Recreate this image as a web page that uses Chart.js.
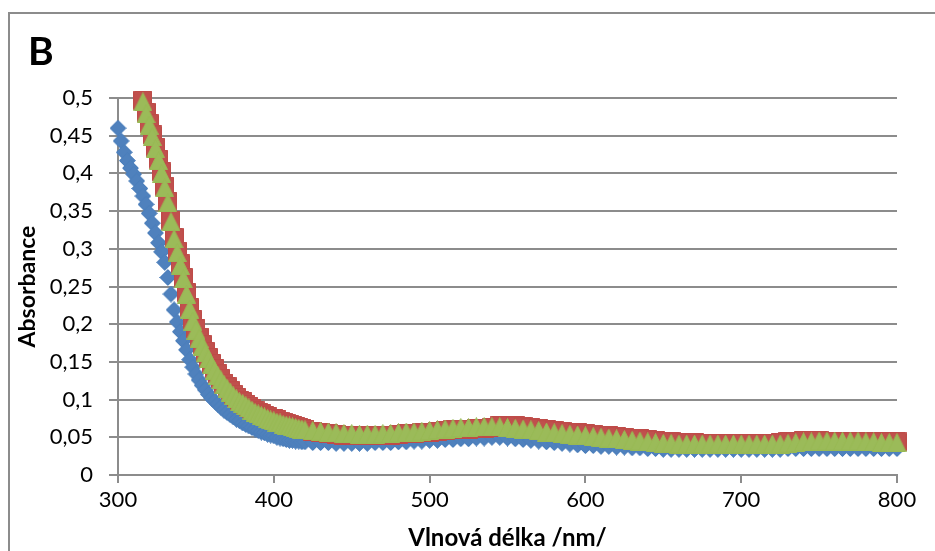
<!DOCTYPE html>
<html lang="cs">
<head>
<meta charset="UTF-8">
<title>Absorbance</title>
<script src="https://cdn.jsdelivr.net/npm/chart.js"></script>
<style>
    body { margin: 0; background: #fff; }
    #obal { width: 935px; height: 551px; }
</style>
</head>
<body>
<div id="obal"><canvas id="spektrum" width="935" height="551"></canvas></div>

<script>
// vlnove delky (nm) - husteji v prudke casti krivky
const vlnovaDelka = [
    300, 302, 304, 306, 308, 310, 312, 314, 316, 318, 320, 322, 324, 326, 328, 330,
    332, 334, 336, 338, 340, 342, 344, 346, 348, 350, 352, 354, 356, 358, 360, 362,
    364, 366, 368, 370, 372, 374, 376, 378, 380, 382, 384, 386, 388, 390, 392, 394,
    396, 398, 400, 402, 404, 406, 408, 410, 412, 414, 416, 418, 420,
    425, 430, 435, 440, 445, 450, 455, 460, 465, 470, 475, 480, 485, 490, 495, 500,
    505, 510, 515, 520, 525, 530, 535, 540, 545, 550, 555, 560, 565, 570, 575, 580,
    585, 590, 595, 600, 605, 610, 615, 620, 625, 630, 635, 640, 645, 650, 655, 660,
    665, 670, 675, 680, 685, 690, 695, 700, 705, 710, 715, 720, 725, 730, 735, 740,
    745, 750, 755, 760, 765, 770, 775, 780, 785, 790, 795, 800
];

// modre kosoctverce
const absModra = [
    0.460, 0.443, 0.428, 0.417, 0.407, 0.399, 0.390, 0.380, 0.370, 0.359, 0.347, 0.334, 0.321, 0.308, 0.296, 0.282,
    0.262, 0.240, 0.219, 0.203, 0.190, 0.178, 0.166, 0.153, 0.143, 0.134, 0.126, 0.119, 0.113, 0.107, 0.102, 0.098,
    0.094, 0.090, 0.086, 0.083, 0.080, 0.077, 0.074, 0.072, 0.069, 0.067, 0.065, 0.063, 0.061, 0.059, 0.057, 0.056,
    0.054, 0.053, 0.052, 0.050, 0.049, 0.048, 0.047, 0.046, 0.046, 0.045, 0.045, 0.044, 0.044,
    0.043, 0.043, 0.043, 0.042, 0.042, 0.042, 0.042, 0.042, 0.043, 0.043, 0.043, 0.044, 0.044, 0.045, 0.045, 0.046,
    0.046, 0.047, 0.047, 0.048, 0.048, 0.049, 0.049, 0.050, 0.050, 0.049, 0.048, 0.047, 0.046, 0.045, 0.044, 0.043,
    0.042, 0.041, 0.040, 0.039, 0.039, 0.038, 0.038, 0.037, 0.037, 0.036, 0.036, 0.035, 0.035, 0.034, 0.034, 0.034,
    0.034, 0.034, 0.034, 0.034, 0.034, 0.034, 0.034, 0.034, 0.034, 0.034, 0.034, 0.034, 0.034, 0.035, 0.035, 0.035,
    0.035, 0.035, 0.035, 0.035, 0.035, 0.035, 0.035, 0.035, 0.035, 0.035, 0.035, 0.035
];

// cervene ctverce (nad 0,5 mimo graf)
const absCervena = [
    null, null, null, null, null, null, null, null, 0.497, 0.481, 0.466, 0.451, 0.435, 0.419, 0.402, 0.383,
    0.363, 0.338, 0.315, 0.297, 0.280, 0.262, 0.242, 0.222, 0.206, 0.194, 0.183, 0.173, 0.164, 0.156, 0.148, 0.141,
    0.134, 0.128, 0.122, 0.117, 0.112, 0.107, 0.103, 0.099, 0.097, 0.094, 0.091, 0.088, 0.085, 0.083, 0.081, 0.079,
    0.077, 0.075, 0.075, 0.073, 0.071, 0.070, 0.068, 0.067, 0.066, 0.064, 0.063, 0.062, 0.061,
    0.058, 0.056, 0.055, 0.054, 0.053, 0.053, 0.052, 0.052, 0.052, 0.053, 0.053, 0.054, 0.055, 0.055, 0.056, 0.057,
    0.058, 0.059, 0.060, 0.061, 0.061, 0.062, 0.062, 0.063, 0.065, 0.065, 0.065, 0.064, 0.063, 0.062, 0.060, 0.059,
    0.058, 0.057, 0.056, 0.055, 0.054, 0.053, 0.052, 0.051, 0.050, 0.049, 0.048, 0.047, 0.046, 0.045, 0.044, 0.043,
    0.043, 0.043, 0.042, 0.042, 0.042, 0.042, 0.042, 0.042, 0.042, 0.042, 0.042, 0.042, 0.043, 0.044, 0.045, 0.046,
    0.046, 0.046, 0.045, 0.044, 0.044, 0.044, 0.044, 0.044, 0.044, 0.044, 0.044, 0.044
];

// zelene trojuhelniky
const absZelena = [
    null, null, null, null, null, null, null, null, 0.495, 0.479, 0.464, 0.449, 0.433, 0.417, 0.400, 0.381,
    0.361, 0.336, 0.313, 0.295, 0.278, 0.260, 0.240, 0.220, 0.204, 0.192, 0.181, 0.171, 0.162, 0.154, 0.146, 0.139,
    0.132, 0.126, 0.120, 0.115, 0.110, 0.105, 0.101, 0.097, 0.095, 0.092, 0.089, 0.086, 0.083, 0.081, 0.079, 0.077,
    0.075, 0.073, 0.072, 0.070, 0.069, 0.067, 0.066, 0.065, 0.064, 0.063, 0.062, 0.061, 0.060,
    0.059, 0.058, 0.057, 0.056, 0.055, 0.055, 0.054, 0.054, 0.054, 0.055, 0.055, 0.056, 0.057, 0.057, 0.058, 0.059,
    0.060, 0.061, 0.062, 0.063, 0.063, 0.064, 0.064, 0.064, 0.064, 0.063, 0.062, 0.061, 0.060, 0.059, 0.057, 0.056,
    0.055, 0.054, 0.053, 0.052, 0.051, 0.050, 0.049, 0.048, 0.047, 0.046, 0.045, 0.044, 0.043, 0.042, 0.042, 0.041,
    0.041, 0.041, 0.041, 0.041, 0.041, 0.041, 0.041, 0.041, 0.041, 0.041, 0.041, 0.041, 0.041, 0.042, 0.043, 0.044,
    0.044, 0.045, 0.045, 0.045, 0.045, 0.045, 0.045, 0.044, 0.044, 0.043, 0.043, 0.043
];

const xTicks = [300, 400, 500, 600, 700, 800];
const yTicks = [0, 0.05, 0.1, 0.15, 0.2, 0.25, 0.3, 0.35, 0.4, 0.45, 0.5];
const yTickLabels = ['0', '0,05', '0,1', '0,15', '0,2', '0,25', '0,3', '0,35', '0,4', '0,45', '0,5'];

const seda = '#8c8c8c';

// znacky jako v Excelu
function znacka(tvar, vypln, okraj, w, h) {
    const c = document.createElement('canvas');
    c.width = w;
    c.height = h;
    const g = c.getContext('2d');
    g.beginPath();
    if (tvar === 'kosoctverec') {
        g.moveTo(w / 2, 0.5); g.lineTo(w - 0.5, h / 2); g.lineTo(w / 2, h - 0.5); g.lineTo(0.5, h / 2);
    } else if (tvar === 'ctverec') {
        g.rect(0.5, 0.5, w - 1, h - 1);
    } else {
        g.moveTo(w / 2, 0.5); g.lineTo(w - 0.5, h - 0.5); g.lineTo(0.5, h - 0.5);
    }
    g.closePath();
    g.fillStyle = vypln;
    g.fill();
    g.strokeStyle = okraj;
    g.lineWidth = 1;
    g.stroke();
    return c;
}

function body(hodnoty) {
    return vlnovaDelka.map((x, i) => ({ x: x, y: hodnoty[i] }));
}

// ramecek a pismeno B
const ramecek = {
    id: 'ramecek',
    beforeDraw(chart) {
        const c = chart.ctx;
        c.save();
        c.strokeStyle = seda;
        c.lineWidth = 2;
        c.beginPath();
        c.moveTo(9, 551);
        c.lineTo(9, 13);
        c.lineTo(935, 13);
        c.stroke();
        c.fillStyle = '#000';
        c.font = 'bold 39px Lato';
        c.textBaseline = 'alphabetic';
        c.fillText('B', 28, 65);
        c.restore();
    }
};

const ctx = document.getElementById('spektrum').getContext('2d');
const graf = new Chart(ctx, {
    type: 'scatter',
    data: {
        datasets: [
            {
                label: 'modra',
                data: body(absModra),
                pointStyle: znacka('kosoctverec', '#4f81bd', '#4a7ebb', 17, 17),
                pointRadius: 8,
                order: 3,
                clip: false
            },
            {
                label: 'cervena',
                data: body(absCervena),
                pointStyle: znacka('ctverec', '#c0504d', '#be4b48', 19, 19),
                pointRadius: 9,
                order: 2,
                clip: false
            },
            {
                label: 'zelena',
                data: body(absZelena),
                pointStyle: znacka('trojuhelnik', '#9bbb59', '#98b954', 19, 19),
                pointRadius: 9,
                order: 1,
                clip: false
            }
        ]
    },
    options: {
        responsive: false,
        animation: false,
        devicePixelRatio: 1,
        layout: { padding: { left: 0, top: 98, right: 38, bottom: 0 } },
        plugins: {
            legend: { display: false },
            tooltip: { enabled: false }
        },
        scales: {
            x: {
                type: 'linear',
                min: 300,
                max: 800,
                afterBuildTicks: s => { s.ticks = xTicks.map(v => ({ value: v })); },
                afterFit: s => { s.height = 76; },
                grid: { drawOnChartArea: false, drawTicks: true, tickLength: 8, color: seda, lineWidth: 2 },
                border: { color: seda, width: 2 },
                ticks: { font: { family: 'Lato', size: 22 }, color: '#000', padding: 4, maxRotation: 0 },
                title: {
                    display: true,
                    text: 'Vlnová délka /nm/',
                    font: { family: 'Lato', size: 24, weight: 'bold' },
                    color: '#000',
                    padding: { top: 0, bottom: -2 }
                }
            },
            y: {
                min: 0,
                max: 0.5,
                afterBuildTicks: s => { s.ticks = yTicks.map(v => ({ value: v })); },
                afterFit: s => { s.width = 118; },
                grid: { color: seda, lineWidth: 2, tickLength: 9 },
                border: { color: seda, width: 2 },
                ticks: {
                    font: { family: 'Lato', size: 22 },
                    color: '#000',
                    padding: 16,
                    callback: (v, i) => yTickLabels[i]
                },
                title: {
                    display: true,
                    text: 'Absorbance',
                    font: { family: 'Lato', size: 23, weight: 'bold' },
                    color: '#000',
                    padding: { top: 14, bottom: 0 }
                }
            }
        }
    },
    plugins: [ramecek]
});
</script>
</body>
</html>
